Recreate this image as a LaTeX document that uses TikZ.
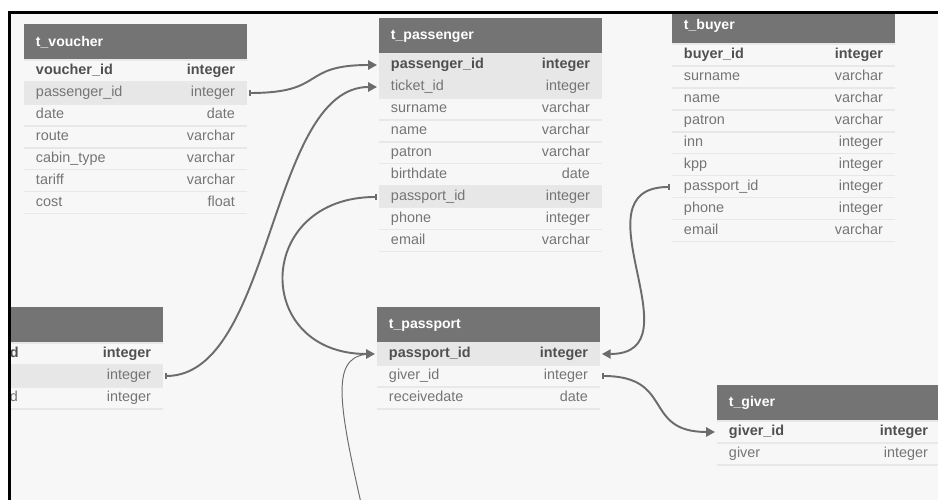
\documentclass[tikz,border=0pt]{standalone}
\usepackage{fontspec}
\setmainfont{Liberation Sans}
\usetikzlibrary{arrows.meta,positioning}
\definecolor{erCanvas}{HTML}{F7F7F7}
\definecolor{erHead}{HTML}{747474}
\definecolor{erText}{HTML}{757575}
\definecolor{erKey}{HTML}{505050}
\definecolor{erSep}{HTML}{E8E8E8}
\definecolor{erLine}{HTML}{6C6C6C}
\definecolor{rf0}{HTML}{F7F7F7}
\definecolor{rf1}{HTML}{E7E7E7}
\newcommand{\pkey}[1]{\textbf{\color{erKey}#1}}
\tikzset{
  erHeader/.style={fill=erHead, text=white, anchor=north west,
                   font=\fontsize{8}{10}\selectfont\bfseries,
                   text width=3.98cm, inner xsep=0.24cm, inner ysep=0pt,
                   minimum height=0.72cm, outer sep=0pt},
  erRow/.style={fill=rf#1, text=erText, anchor=north west,
                font=\fontsize{8.2}{10}\selectfont,
                text width=3.98cm, inner xsep=0.24cm, inner ysep=0pt,
                minimum height=0.44cm, outer sep=0pt},
  erSepLine/.style={draw=erSep, line width=0.6pt},
  erFk/.style={draw=erLine, line width=1.1pt,
               {Bar[width=3.2pt]}-{Triangle[length=5pt,width=5.2pt]},
               shorten <=0.04cm, shorten >=0.04cm},
  erThin/.style={draw=erLine, line width=0.55pt, shorten >=0.1cm},
  erFrame/.style={draw=black, line width=0.06cm}
}

\begin{document}
\begin{tikzpicture}[x=0.02cm,y=-0.02cm]
  \fill[white] (0,0) rectangle (938,500);
  \fill[erCanvas] (11,14) rectangle (938,500);
  \useasboundingbox (0,0) rectangle (938,500);

  \begin{scope}
  \clip (11,14) rectangle (938,500);

  % tables
  \node[erHeader] (vou) at (24,24) {t\_voucher};
  \foreach \n/\t/\h [count=\i] in {\pkey{voucher\_id}/\pkey{integer}/0,
      passenger\_id/integer/1, date/date/0, route/varchar/0,
      cabin\_type/varchar/0, tariff/varchar/0, cost/float/0}{
    \node[erRow=\h] (vou-\i) at ([yshift={-(\i-1)*0.44cm}]vou.south west) {\strut\n\hfill\t};
    \draw[erSepLine] (vou-\i.north west) -- (vou-\i.north east);
  }
  \draw[erSepLine] (vou-7.south west) -- (vou-7.south east);

  \node[erHeader] (pas) at (379,18) {t\_passenger};
  \foreach \n/\t/\h [count=\i] in {\pkey{passenger\_id}/\pkey{integer}/1,
      ticket\_id/integer/1, surname/varchar/0, name/varchar/0,
      patron/varchar/0, birthdate/date/0, passport\_id/integer/1,
      phone/integer/0, email/varchar/0}{
    \node[erRow=\h] (pas-\i) at ([yshift={-(\i-1)*0.44cm}]pas.south west) {\strut\n\hfill\t};
    \draw[erSepLine] (pas-\i.north west) -- (pas-\i.north east);
  }
  \draw[erSepLine] (pas-9.south west) -- (pas-9.south east);

  \node[erHeader] (buy) at (672,8) {t\_buyer};
  \foreach \n/\t/\h [count=\i] in {\pkey{buyer\_id}/\pkey{integer}/0,
      surname/varchar/0, name/varchar/0, patron/varchar/0,
      inn/integer/0, kpp/integer/0, passport\_id/integer/0,
      phone/integer/0, email/varchar/0}{
    \node[erRow=\h] (buy-\i) at ([yshift={-(\i-1)*0.44cm}]buy.south west) {\strut\n\hfill\t};
    \draw[erSepLine] (buy-\i.north west) -- (buy-\i.north east);
  }
  \draw[erSepLine] (buy-9.south west) -- (buy-9.south east);

  \node[erHeader, text width=2.82cm] (tkt) at (-2,307) {};
  \foreach \n/\t/\h [count=\i] in {\pkey{d}/\pkey{integer}/0,
      \mbox{}/integer/1, d/integer/0}{
    \node[erRow=\h, text width=2.82cm] (tkt-\i) at ([yshift={-(\i-1)*0.44cm}]tkt.south west) {\strut\n\hfill\t};
    \draw[erSepLine] (tkt-\i.north west) -- (tkt-\i.north east);
  }
  \draw[erSepLine] (tkt-3.south west) -- (tkt-3.south east);

  \node[erHeader] (pp) at (377,307) {t\_passport};
  \foreach \n/\t/\h [count=\i] in {\pkey{passport\_id}/\pkey{integer}/1,
      giver\_id/integer/0, receivedate/date/0}{
    \node[erRow=\h] (pp-\i) at ([yshift={-(\i-1)*0.44cm}]pp.south west) {\strut\n\hfill\t};
    \draw[erSepLine] (pp-\i.north west) -- (pp-\i.north east);
  }
  \draw[erSepLine] (pp-3.south west) -- (pp-3.south east);

  \node[erHeader] (giv) at (717,385) {t\_giver};
  \foreach \n/\t/\h [count=\i] in {\pkey{giver\_id}/\pkey{integer}/0,
      giver/integer/0}{
    \node[erRow=\h] (giv-\i) at ([yshift={-(\i-1)*0.44cm}]giv.south west) {\strut\n\hfill\t};
    \draw[erSepLine] (giv-\i.north west) -- (giv-\i.north east);
  }
  \draw[erSepLine] (giv-2.south west) -- (giv-2.south east);

  % references
  \draw[erFk] (vou-2.east) .. controls +(80,0) and +(-80,0) .. (pas-1.west);
  \draw[erFk] (tkt-2.east) .. controls +(110,0) and +(-110,0) .. (pas-2.west);
  \draw[erFk] (pas-7.west) .. controls +(-125,0) and +(-125,0) .. (pp-1.west);
  \draw[erFk] (buy-7.west) .. controls +(-100,0) and +(100,0) .. (pp-1.east);
  \draw[erFk] (pp-2.east) .. controls +(75,0) and +(-75,0) .. (giv-1.west);
  \coordinate (offpass) at (361,503);
  \draw[erThin] (offpass) .. controls +(-25,-110) and +(-45,0) .. (pp-1.west);
  \end{scope}

  \draw[erFrame] (9.5,500) -- (9.5,12.5) -- (938,12.5);
\end{tikzpicture}
\end{document}
